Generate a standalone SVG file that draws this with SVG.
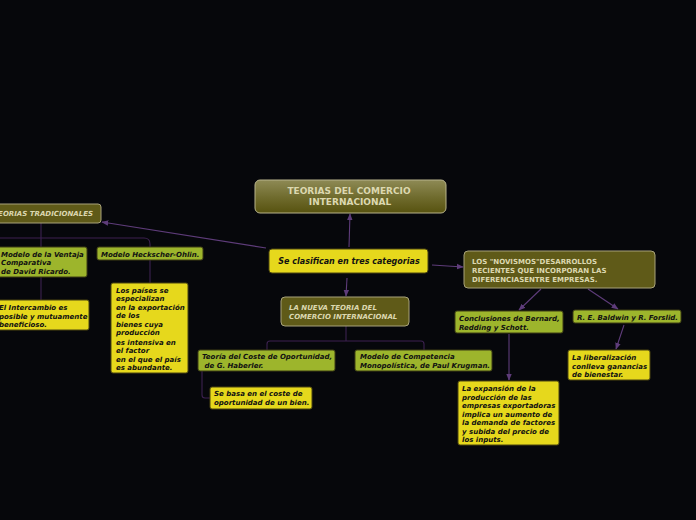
<svg xmlns="http://www.w3.org/2000/svg" width="696" height="520" viewBox="0 0 696 520">
<defs>
<linearGradient id="gMain" x1="0" y1="0" x2="0" y2="1">
<stop offset="0" stop-color="#8e8a55"/>
<stop offset="0.55" stop-color="#6e6a2c"/>
<stop offset="1" stop-color="#57520f"/>
</linearGradient>
<marker id="arr" viewBox="0 0 10 10" refX="9" refY="5" markerWidth="7" markerHeight="7" orient="auto-start-reverse" markerUnits="userSpaceOnUse">
<path d="M0,1 L10,5 L0,9 z" fill="#5e3c7a"/>
</marker>
<style>
.olive{fill:#5f5a18;stroke:#a8a27a;stroke-width:1}
.green{fill:#9db52c;stroke:#3c3c14;stroke-width:1}
.yellow{fill:#e6d81c;stroke:#4a4410;stroke-width:1}
.t{font-family:"DejaVu Sans",Verdana,sans-serif;font-weight:bold}
.lt{fill:#dcd8b0}
.dk{fill:#111}
.it{font-style:italic}
.s7{font-size:7px}
.c{fill:none;stroke:#5e3c7a;stroke-width:1.1}
.ct{fill:none;stroke:#3c2150;stroke-width:1.1}
</style>
</defs>
<rect width="696" height="520" fill="#06070b"/>
<g id="connectors">
<line class="c" x1="349" y1="247" x2="350" y2="214" marker-end="url(#arr)"/>
<line class="c" x1="266" y1="248" x2="102" y2="222" marker-end="url(#arr)"/>
<line class="c" x1="432" y1="265" x2="463" y2="267" marker-end="url(#arr)"/>
<line class="c" x1="347" y1="278" x2="346" y2="296" marker-end="url(#arr)"/>
<line class="c" x1="541" y1="289" x2="519" y2="310" marker-end="url(#arr)"/>
<line class="c" x1="588" y1="289" x2="618" y2="309" marker-end="url(#arr)"/>
<line class="c" x1="509" y1="334" x2="509" y2="380" marker-end="url(#arr)"/>
<line class="c" x1="624" y1="325" x2="616" y2="349" marker-end="url(#arr)"/>
<path class="ct" d="M41 223 V300"/>
<path class="ct" d="M-10 238 H144 Q150 238 150 244 V247"/>
<path class="ct" d="M150 260 V283"/>
<path class="ct" d="M346 326 V341"/>
<path class="ct" d="M267 350 V344 Q267 341 270 341 H421 Q424 341 424 344 V350"/>
<path class="ct" d="M202 371 V395 Q202 398 205 398 H210"/>
</g>
<g id="n-main">
<rect x="255" y="180" width="191" height="33" rx="5" fill="url(#gMain)" stroke="#b8b48c" stroke-width="1"/>
<text class="t lt" font-size="9" text-anchor="middle"><tspan x="349" y="194">TEORIAS DEL COMERCIO</tspan><tspan x="350" y="205">INTERNACIONAL</tspan></text>
</g>
<g id="n-clasifican">
<rect x="269" y="249" width="159" height="24" rx="3" class="yellow"/>
<text class="t dk it" font-size="8" x="349" y="264" text-anchor="middle">Se clasifican en tres categorias</text>
</g>
<g id="n-tradicionales">
<rect x="-10" y="204" width="111" height="19" rx="3" class="olive"/>
<text class="t lt it s7" x="93" y="216" text-anchor="end">TEORIAS TRADICIONALES</text>
</g>
<g id="n-novismos">
<rect x="464" y="251" width="191" height="37" rx="4" class="olive"/>
<text class="t lt s7"><tspan x="472" y="264">LOS "NOVISMOS"DESARROLLOS</tspan><tspan x="472" y="273">RECIENTES QUE INCORPORAN LAS</tspan><tspan x="472" y="282">DIFERENCIASENTRE EMPRESAS.</tspan></text>
</g>
<g id="n-nueva">
<rect x="281" y="297" width="128" height="29" rx="4" class="olive"/>
<text class="t lt it s7"><tspan x="289" y="310">LA NUEVA TEORIA DEL</tspan><tspan x="289" y="319">COMERCIO INTERNACIONAL</tspan></text>
</g>
<g id="n-ventaja">
<rect x="-5" y="247" width="92" height="30" rx="2" class="green"/>
<text class="t dk it s7"><tspan x="1" y="256.5">Modelo de la Ventaja</tspan><tspan x="1" y="265">Comparativa</tspan><tspan x="1" y="273.5">de David Ricardo.</tspan></text>
</g>
<g id="n-heckscher">
<rect x="97" y="247" width="106" height="13" rx="2" class="green"/>
<text class="t dk it s7" x="101" y="256.5">Modelo Heckscher-Ohlin.</text>
</g>
<g id="n-intercambio">
<rect x="-5" y="300" width="94" height="30" rx="2" class="yellow"/>
<text class="t dk it s7"><tspan x="-1" y="310">El Intercambio es</tspan><tspan x="-1" y="318.5">posible y mutuamente</tspan><tspan x="-1" y="327">beneficioso.</tspan></text>
</g>
<g id="n-paises">
<rect x="111" y="283" width="77" height="90" rx="2" class="yellow"/>
<text class="t dk it s7"><tspan x="116" y="292.5">Los países se</tspan><tspan x="116" y="300.5">especializan</tspan><tspan x="116" y="310">en la exportación</tspan><tspan x="116" y="318">de los</tspan><tspan x="116" y="327">bienes cuya</tspan><tspan x="116" y="335">producción</tspan><tspan x="116" y="344.5">es intensiva en</tspan><tspan x="116" y="352.5">el factor</tspan><tspan x="116" y="361.5">en el que el país</tspan><tspan x="116" y="369.5">es abundante.</tspan></text>
</g>
<g id="n-coste">
<rect x="198" y="350" width="137" height="21" rx="2" class="green"/>
<text class="t dk it s7" xml:space="preserve"><tspan x="202" y="359">Teoría del Coste de Oportunidad,</tspan><tspan x="202" y="368"> de G. Haberler.</tspan></text>
</g>
<g id="n-krugman">
<rect x="355" y="350" width="137" height="21" rx="2" class="green"/>
<text class="t dk it s7"><tspan x="360" y="359">Modelo de Competencia</tspan><tspan x="360" y="368">Monopolística, de Paul Krugman.</tspan></text>
</g>
<g id="n-sebasa">
<rect x="210" y="387" width="102" height="22" rx="2" class="yellow"/>
<text class="t dk it s7"><tspan x="214" y="396">Se basa en el coste de</tspan><tspan x="214" y="405">oportunidad de un bien.</tspan></text>
</g>
<g id="n-conclusiones">
<rect x="455" y="311" width="108" height="22" rx="2" class="green"/>
<text class="t dk it s7"><tspan x="459" y="321">Conclusiones de Bernard,</tspan><tspan x="459" y="330">Redding y Schott.</tspan></text>
</g>
<g id="n-baldwin">
<rect x="573" y="310" width="108" height="13" rx="2" class="green"/>
<text class="t dk it s7" x="577" y="319.5">R. E. Baldwin y R. Forslid.</text>
</g>
<g id="n-expansion">
<rect x="458" y="381" width="101" height="64" rx="2" class="yellow"/>
<text class="t dk it s7"><tspan x="462" y="391">La expansión de la</tspan><tspan x="462" y="399.5">producción de las</tspan><tspan x="462" y="408">empresas exportadoras</tspan><tspan x="462" y="416.5">implica un aumento de</tspan><tspan x="462" y="425">la demanda de factores</tspan><tspan x="462" y="433.5">y subida del precio de</tspan><tspan x="462" y="442">los inputs.</tspan></text>
</g>
<g id="n-liberalizacion">
<rect x="568" y="350" width="82" height="30" rx="2" class="yellow"/>
<text class="t dk it s7"><tspan x="572" y="360">La liberalización</tspan><tspan x="572" y="368.5">conlleva ganancias</tspan><tspan x="572" y="377">de bienestar.</tspan></text>
</g>
</svg>
